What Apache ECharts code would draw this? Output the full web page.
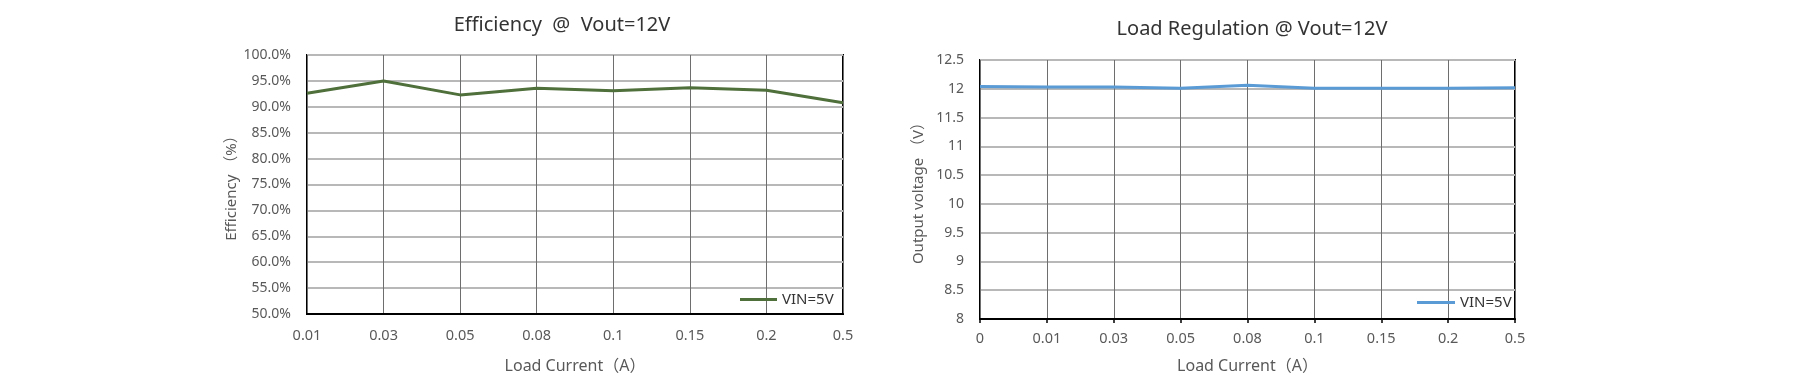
<!DOCTYPE html>
<html>
<head>
<meta charset="utf-8">
<script src="https://cdn.jsdelivr.net/npm/echarts@6/dist/echarts.min.js"></script>
<style>
html,body{margin:0;padding:0;background:#fff;}
#c{width:1794px;height:391px;}
</style>
</head>
<body>
<div id="c"></div>
<script>
// ---- data ----
const effCategories = ['0.01','0.03','0.05','0.08','0.1','0.15','0.2','0.5'];
const effValues = [92.6, 95.0, 92.3, 93.6, 93.1, 93.7, 93.2, 90.8];
const regCategories = ['0','0.01','0.03','0.05','0.08','0.1','0.15','0.2','0.5'];
const regValues = [12.04, 12.03, 12.03, 12.01, 12.06, 12.01, 12.01, 12.01, 12.02];
const seriesLabel = 'VIN=5V';
const effTitle = 'Efficiency  @  Vout=12V';
const regTitle = 'Load Regulation @ Vout=12V';
const xName = 'Load Current（A）';
const effYName = 'Efficiency （%）';
const regYName = 'Output voltage （V）';

const FONT = '"Noto Sans", "Noto Sans CJK SC", sans-serif';
const labelColor = '#595959';

const chart = echarts.init(document.getElementById('c'), null, {renderer:'canvas'});

function yAxisBase(gridIndex, min, max, interval, fmt, name, nameGap) {
  return {
    type: 'value', gridIndex, min, max, interval,
    name, nameLocation: 'middle', nameGap,
    nameTextStyle: {color: labelColor, fontSize: 15, fontFamily: FONT},
    axisLine: {show: false}, axisTick: {show: false},
    axisLabel: {color: labelColor, fontSize: 14, fontFamily: FONT, margin: 16, formatter: fmt},
    splitLine: {show: true, lineStyle: {color: '#b8b8b8', width: 2}}
  };
}
function xAxisBase(gridIndex, data, ticks, nameGap, margin) {
  return {
    type: 'category', gridIndex, data, boundaryGap: false,
    name: xName, nameLocation: 'middle', nameGap,
    nameTextStyle: {color: labelColor, fontSize: 16, fontFamily: FONT},
    axisLine: {show: true, lineStyle: {color: '#000', width: 2}},
    axisTick: {show: ticks, length: 4, inside: false, interval: 0, lineStyle: {color: '#000', width: 1.5}},
    axisLabel: {color: labelColor, fontSize: 14.5, fontFamily: FONT, margin, interval: 0},
    splitLine: {show: true, interval: 0, lineStyle: {color: '#6e6e6e', width: 1}}
  };
}

chart.setOption({
  backgroundColor: '#fff',
  animation: false,
  title: [
    {text: effTitle, left: 557, top: 10, textAlign: 'center',
     textStyle: {color: '#333', fontSize: 20, fontWeight: 'normal', fontFamily: FONT}},
    {text: regTitle, left: 1247, top: 14, textAlign: 'center',
     textStyle: {color: '#333', fontSize: 20, fontWeight: 'normal', fontFamily: FONT}}
  ],
  legend: [
    {data: ['eff'], left: 735, top: 287, icon: 'rect', itemWidth: 37, itemHeight: 3, itemGap: 5,
     formatter: () => seriesLabel, textStyle: {color: '#333', fontSize: 15, fontFamily: FONT}},
    {data: ['reg'], left: 1412, top: 290, icon: 'rect', itemWidth: 38, itemHeight: 3, itemGap: 5,
     formatter: () => seriesLabel, textStyle: {color: '#333', fontSize: 15, fontFamily: FONT}}
  ],
  grid: [
    {left: 307, top: 55, width: 536, height: 259, show: true, borderColor: '#000', borderWidth: 2, backgroundColor: '#fff'},
    {left: 980, top: 60, width: 535, height: 259, show: true, borderColor: '#000', borderWidth: 2, backgroundColor: '#fff'}
  ],
  xAxis: [
    xAxisBase(0, effCategories, false, 44, 15),
    xAxisBase(1, regCategories, true, 39, 13)
  ],
  yAxis: [
    yAxisBase(0, 50, 100, 5, v => v.toFixed(1) + '%', effYName, 66),
    yAxisBase(1, 8, 12.5, 0.5, v => String(v), regYName, 54)
  ],
  series: [
    {name: 'eff', type: 'line', xAxisIndex: 0, yAxisIndex: 0, data: effValues,
     showSymbol: false, symbol: 'none', lineStyle: {color: '#4f6f3b', width: 3}, itemStyle: {color: '#4f6f3b'}},
    {name: 'reg', type: 'line', xAxisIndex: 1, yAxisIndex: 1, data: regValues,
     showSymbol: false, symbol: 'none', lineStyle: {color: '#5b9bd5', width: 3}, itemStyle: {color: '#5b9bd5'}}
  ]
});
</script>
</body>
</html>
